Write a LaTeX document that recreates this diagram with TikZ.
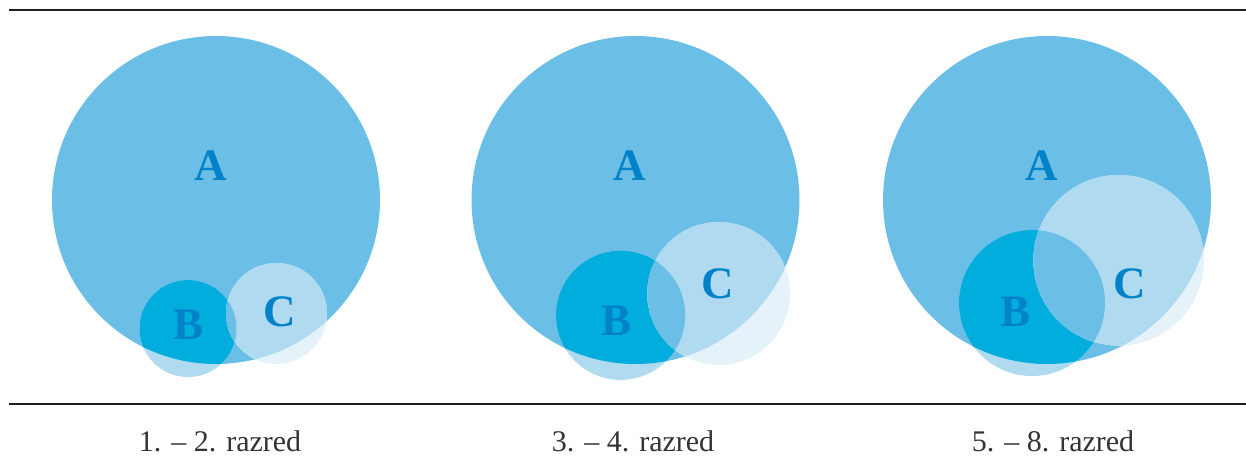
\documentclass[tikz,border=0pt]{standalone}
\usepackage{fontspec}
\setmainfont{Liberation Serif}
\usepackage{xcolor}
\definecolor{setAcolor}{RGB}{107,191,230}
\definecolor{setBcolor}{RGB}{0,173,220}
\definecolor{lightcolor}{RGB}{176,218,240}
\definecolor{palecolor}{RGB}{229,242,250}
\definecolor{labelcolor}{RGB}{0,130,200}
\definecolor{rulecolor}{RGB}{35,31,32}
\definecolor{captioncolor}{RGB}{51,51,51}

\begin{document}
\begin{tikzpicture}[x=1pt,y=-1pt]
  \tikzset{
    setlabel/.style={
      text=labelcolor,
      font=\fontsize{45}{45}\selectfont\bfseries,
      inner sep=0pt,
      anchor=center
    },
    caption/.style={
      text=captioncolor,
      font=\fontsize{30}{30}\selectfont,
      inner sep=0pt,
      anchor=base
    },
    rule/.style={
      draw=rulecolor,
      line width=1.7pt
    }
  }
  \useasboundingbox (0,0) rectangle (1246,470);

  % Rules
  \coordinate (topL) at (9,10);
  \coordinate (topR) at (1246,10);
  \coordinate (botL) at (9,404);
  \coordinate (botR) at (1246,404);
  \draw[rule] (topL) -- (topR);
  \draw[rule] (botL) -- (botR);

  % Panel 1
  \def\pathA{(216,200) circle[radius=164pt]}
  \def\pathB{(188,328.5) circle[radius=48.5pt]}
  \def\pathC{(276.5,313.5) circle[radius=50.5pt]}
  \fill[setAcolor] \pathA;
  \fill[lightcolor] \pathB;
  \begin{scope}
    \clip \pathA;
    \fill[setBcolor] \pathB;
  \end{scope}
  \fill[palecolor] \pathC;
  \begin{scope}
    \clip \pathA;
    \fill[lightcolor] \pathC;
    \clip \pathB;
    \fill[setAcolor] \pathC;
  \end{scope}
  \node[setlabel] (A1) at (211,166) {A};
  \node[setlabel] (B1) at (189,325) {B};
  \node[setlabel] (C1) at (280,312) {C};
  \node[caption] (cap1) at (220,451) {1. – 2. razred};

  % Panel 2
  \def\pathA{(635.5,200) circle[radius=164pt]}
  \def\pathB{(620.6,315.3) circle[radius=64.6pt]}
  \def\pathC{(718.7,293.5) circle[radius=71.4pt]}
  \fill[setAcolor] \pathA;
  \fill[lightcolor] \pathB;
  \begin{scope}
    \clip \pathA;
    \fill[setBcolor] \pathB;
  \end{scope}
  \fill[palecolor] \pathC;
  \begin{scope}
    \clip \pathA;
    \fill[lightcolor] \pathC;
    \clip \pathB;
    \fill[setAcolor] \pathC;
  \end{scope}
  \node[setlabel] (A2) at (630,166) {A};
  \node[setlabel] (B2) at (616,321) {B};
  \node[setlabel] (C2) at (718,284) {C};
  \node[caption] (cap2) at (633,451) {3. – 4. razred};

  % Panel 3
  \def\pathA{(1047,200) circle[radius=164pt]}
  \def\pathB{(1032,303) circle[radius=73pt]}
  \def\pathC{(1118.7,260.3) circle[radius=85.3pt]}
  \fill[setAcolor] \pathA;
  \fill[lightcolor] \pathB;
  \begin{scope}
    \clip \pathA;
    \fill[setBcolor] \pathB;
  \end{scope}
  \fill[palecolor] \pathC;
  \begin{scope}
    \clip \pathA;
    \fill[lightcolor] \pathC;
    \clip \pathB;
    \fill[setAcolor] \pathC;
  \end{scope}
  \node[setlabel] (A3) at (1042,166) {A};
  \node[setlabel] (B3) at (1015,312) {B};
  \node[setlabel] (C3) at (1130,284) {C};
  \node[caption] (cap3) at (1053,451) {5. – 8. razred};
\end{tikzpicture}
\end{document}
